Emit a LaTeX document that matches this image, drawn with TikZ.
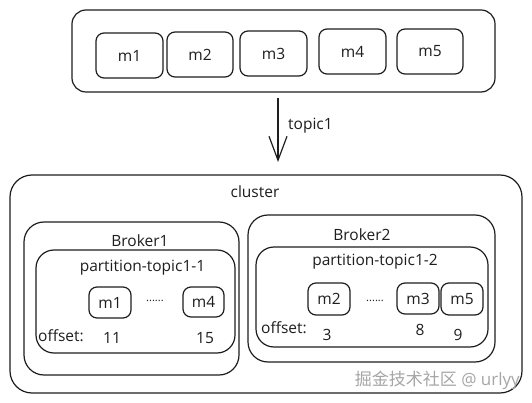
\documentclass[tikz,border=0pt]{standalone}
\usepackage{fontspec}
\setmainfont{Open Sans}
\newfontfamily\cjkf{Noto Sans CJK SC}
\usetikzlibrary{arrows.meta}
\definecolor{ink}{HTML}{1E1E1E}
\begin{document}
\begin{tikzpicture}[x=1pt,y=-1pt,
  box/.style={draw=ink, line width=1.2pt, rounded corners=14pt, inner sep=0pt},
  msg/.style={draw=ink, line width=1.2pt, rounded corners=8pt, inner sep=0pt, text=ink, font=\fontsize{15.5}{17}\selectfont},
  lbl/.style={text=ink, inner sep=0pt, font=\fontsize{15.5}{17}\selectfont},
  arr/.style={draw=ink, line width=1.2pt, -{Straight Barb[length=24pt,width=18pt]}}
]
\fill[white] (0,0) rectangle (532,403);
\useasboundingbox (0,0) rectangle (532,403);
% top queue
\node[box, minimum width=423pt, minimum height=82pt] (top) at (283.5,51) {};
\node[msg, minimum width=67pt, minimum height=45pt] (t1) at (129.5,55.5) {m1};
\node[msg, minimum width=66pt, minimum height=45pt] (t2) at (200,54.5) {m2};
\node[msg, minimum width=67pt, minimum height=45pt] (t3) at (273.5,53.5) {m3};
\node[msg, minimum width=67pt, minimum height=45pt] (t4) at (352.5,51.5) {m4};
\node[msg, minimum width=66pt, minimum height=45pt] (t5) at (430,51.5) {m5};
% arrow
\coordinate (a1) at (278,98);
\coordinate (a2) at (278,162);
\draw[arr] (a1) -- (a2);
\node[lbl, anchor=west] (topic) at (288,126) {topic1};
% cluster
\node[box, minimum width=512pt, minimum height=218pt, rounded corners=22pt] (cluster) at (266,284) {};
\node[lbl] (clbl) at (255,192) {cluster};
% broker1
\node[box, minimum width=215pt, minimum height=153pt, rounded corners=20pt] (b1) at (131.5,298.5) {};
\node[lbl] (b1lbl) at (140,241) {Broker1};
\node[box, minimum width=199pt, minimum height=103pt, rounded corners=18pt] (p1) at (135.5,301.5) {};
\node[lbl] (p1lbl) at (142.5,268) {partition-topic1-1};
\node[msg, minimum width=42pt, minimum height=31pt] (p1m1) at (110,302.5) {m1};
\node[lbl] (p1dots) at (155,301) {\fontsize{11}{13}\selectfont ......};
\node[msg, minimum width=41pt, minimum height=30pt] (p1m4) at (203.5,302) {m4};
\node[lbl, anchor=west] (p1off) at (38,336) {offset:};
\node[lbl] (o11) at (112,338) {11};
\node[lbl] (o15) at (205,338) {15};
% broker2
\node[box, minimum width=247pt, minimum height=147pt, rounded corners=20pt] (b2) at (371.5,288.5) {};
\node[lbl] (b2lbl) at (362,235) {Broker2};
\node[box, minimum width=232pt, minimum height=100pt, rounded corners=18pt] (p2) at (372,297) {};
\node[lbl] (p2lbl) at (375,262) {partition-topic1-2};
\node[msg, minimum width=42pt, minimum height=32pt] (p2m2) at (329,299) {m2};
\node[lbl] (p2dots) at (375,301) {\fontsize{11}{13}\selectfont ......};
\node[msg, minimum width=42pt, minimum height=31pt] (p2m3) at (418,298.5) {m3};
\node[msg, minimum width=42pt, minimum height=32pt] (p2m5) at (462,299) {m5};
\node[lbl, anchor=west] (p2off) at (261,328) {offset:};
\node[lbl] (o3) at (327,335) {3};
\node[lbl] (o8) at (420,330) {8};
\node[lbl] (o9) at (458,335) {9};
% watermark
\node[inner sep=0pt, anchor=east, text=black!35, font=\fontsize{17}{19}\selectfont] (wm) at (520,380) {{\cjkf 掘金技术社区} @ urlyy};
\end{tikzpicture}
\end{document}
